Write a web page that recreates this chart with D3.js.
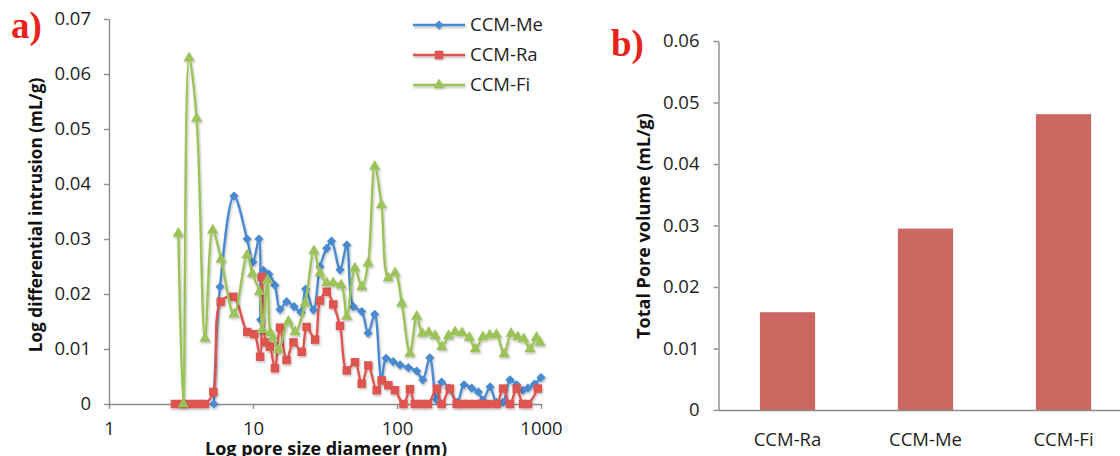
<!DOCTYPE html>
<html>
<head>
<meta charset="utf-8">
<script src="https://cdn.jsdelivr.net/npm/d3@7"></script>
<style>
  body { margin: 0; background: #fff; }
  svg { display: block; font-family: 'Open Sans', sans-serif; }
  .axis path, .axis line { stroke: #8c8c8c; stroke-width: 1.4; }
  .axis text { font-family: 'Open Sans', sans-serif; font-size: 18.5px; fill: #1e1e1e; }
  .title { font-weight: bold; font-size: 18px; fill: #111; }
  .panel { font-family: 'Liberation Serif', serif; font-weight: bold; font-size: 37px; fill: #e8231c; }
  .legend text { font-size: 18.5px; fill: #1e1e1e; }
</style>
</head>
<body>
<div class="chart"></div>
<script>
// panel a) - log differential intrusion vs pore diameter (nm)
const seriesNames = ['CCM-Me', 'CCM-Ra', 'CCM-Fi'];

const meDiam = [5.35, 5.9, 7.38, 9.1, 10.0, 11.0, 11.3, 11.8, 12.9, 14.2, 15.4, 17.1, 19.3, 21.5, 23.2,
  26.3, 29.2, 32.5, 35.1, 40.2, 44.8, 49.8, 56.9, 63, 70, 78, 84, 94, 105, 120, 137, 151, 169, 188,
  204, 229, 262, 292, 330, 367, 395, 443, 490, 545, 609, 678, 750, 812, 900, 1000];
const meVol = [0, 0.0213, 0.0378, 0.0300, 0.0258, 0.0300, 0.0153, 0.0243, 0.0236, 0.0216, 0.0172,
  0.0186, 0.0177, 0.0167, 0.0209, 0.0171, 0.0250, 0.0283, 0.0296, 0.0244, 0.0289, 0.0177, 0.0168,
  0.0129, 0.0163, 0.0044, 0.0083, 0.0077, 0.0071, 0.0066, 0.0060, 0.0044, 0.0084, 0.0008, 0.0040,
  0.0029, 0.0003, 0.0035, 0.0029, 0.0022, 0.0007, 0.0031, 0.0003, 0.0003, 0.0044, 0.0035, 0.0025,
  0.0029, 0.0036, 0.0048];

const raDiam = [2.87, 3.28, 3.75, 4.24, 4.64, 5.30, 5.97, 7.30, 9.13, 10.2, 11.2, 11.5, 12.3, 13.1,
  14.2, 15.4, 17.1, 19.1, 21.8, 23.6, 27.0, 29.2, 32.5, 36.1, 40.2, 44.8, 51.1, 56.9, 63.2, 72.3,
  78.3, 87.1, 96.9, 111, 123, 133, 148, 164, 189, 204, 233, 260, 287, 311, 348, 387, 429, 492, 545,
  609, 678, 750, 812, 950];
const raVol = [0, 0, 0, 0, 0, 0.0022, 0.0186, 0.0195, 0.0131, 0.0127, 0.0086, 0.0231, 0.0112, 0.0104,
  0.0065, 0.0139, 0.0080, 0.0112, 0.0095, 0.0140, 0.0117, 0.0188, 0.0204, 0.0181, 0.0142, 0.0061,
  0.0076, 0.0037, 0.0070, 0.0025, 0.0043, 0.0034, 0.0025, 0, 0.0027, 0, 0, 0, 0.0028, 0, 0.0028,
  0, 0, 0, 0, 0, 0, 0, 0.0028, 0, 0.0028, 0, 0, 0.0028];

const fiDiam = [3.03, 3.28, 3.6, 4.06, 4.64, 5.25, 6.0, 7.38, 9.1, 9.9, 11.1, 11.6, 12.6, 13.2, 13.8,
  15.0, 17.6, 19.6, 23.0, 26.5, 29.2, 32.5, 36.0, 41.0, 44.8, 51.0, 57.0, 63.0, 70.0, 78.0, 87.0,
  97.0, 108, 123, 137, 150, 166, 184, 205, 228, 253, 283, 318, 350, 395, 440, 490, 555, 620, 690,
  760, 840, 930, 985];
const fiVol = [0.0310, 0, 0.0629, 0.0519, 0.0119, 0.0316, 0.0263, 0.0163, 0.0271, 0.0237, 0.0204,
  0.0135, 0.0225, 0.0129, 0.0120, 0.0098, 0.0150, 0.0131, 0.0183, 0.0278, 0.0238, 0.0220, 0.0220,
  0.0216, 0.0159, 0.0247, 0.0213, 0.0256, 0.0432, 0.0362, 0.0229, 0.0238, 0.0183, 0.0092, 0.0159,
  0.0128, 0.0130, 0.0124, 0.0104, 0.0124, 0.0131, 0.0129, 0.0121, 0.0100, 0.0122, 0.0125, 0.0126,
  0.0091, 0.0128, 0.0122, 0.0118, 0.0100, 0.0121, 0.0112];

const poreTicks = [1, 10, 100, 1000];
const intrusionTicks = [0, 0.01, 0.02, 0.03, 0.04, 0.05, 0.06, 0.07];

// panel b) - total pore volume
const sampleNames = ['CCM-Ra', 'CCM-Me', 'CCM-Fi'];
const totalVolume = [0.0159, 0.0295, 0.0481];
const volumeTicks = [0, 0.01, 0.02, 0.03, 0.04, 0.05, 0.06];

const colors = ['#4a89cf', '#de5450', '#9cc35a'];

const svg = d3.select('.chart')
  .append('svg')
  .attr('width', 1120)
  .attr('height', 456);

const shadow = svg.append('defs').append('filter')
  .attr('id', 'shadow')
  .attr('x', '-10%').attr('y', '-10%')
  .attr('width', '120%').attr('height', '120%');
shadow.append('feDropShadow')
  .attr('dx', 0.8).attr('dy', 1.5)
  .attr('stdDeviation', 1.3)
  .attr('flood-color', '#000')
  .attr('flood-opacity', 0.28);

// ---------- a) ----------
const x = d3.scaleLog().domain([1, 1000]).range([109, 541]);
const y = d3.scaleLinear().domain([0, 0.07]).range([404, 19]);

svg.append('g')
  .attr('class', 'axis')
  .attr('transform', 'translate(0,404)')
  .call(d3.axisBottom(x).tickValues(poreTicks).tickFormat(d3.format('d'))
    .tickSize(5).tickSizeOuter(0).tickPadding(13));

svg.append('g')
  .attr('class', 'axis')
  .attr('transform', 'translate(109,0)')
  .call(d3.axisLeft(y).tickValues(intrusionTicks).tickFormat(d => String(d))
    .tickSize(5).tickSizeOuter(0).tickPadding(13));

const series = [
  { name: seriesNames[0], diam: meDiam, vol: meVol, symbol: 'diamond' },
  { name: seriesNames[1], diam: raDiam, vol: raVol, symbol: 'square' },
  { name: seriesNames[2], diam: fiDiam, vol: fiVol, symbol: 'triangle' }
];

const symbolPath = {
  diamond: d3.symbol().type(d3.symbolSquare).size(42)(),
  square: d3.symbol().type(d3.symbolSquare).size(72)(),
  triangle: d3.symbol().type(d3.symbolTriangle).size(55)()
};
const symbolRotate = { diamond: 45, square: 0, triangle: 0 };

const line = d3.line()
  .x(p => x(p.d))
  .y(p => y(p.v))
  .curve(d3.curveCatmullRom.alpha(0.5));

series.forEach((s, i) => {
  const pts = s.diam.map((d, j) => ({ d: d, v: s.vol[j] }));
  const g = svg.append('g').attr('filter', 'url(#shadow)');
  g.append('path')
    .datum(pts)
    .attr('d', line)
    .attr('fill', 'none')
    .attr('stroke', colors[i])
    .attr('stroke-width', 2.4);
  g.selectAll('path.mark')
    .data(pts)
    .join('path')
    .attr('class', 'mark')
    .attr('d', symbolPath[s.symbol])
    .attr('transform', p => `translate(${x(p.d)},${y(p.v)}) rotate(${symbolRotate[s.symbol]})`)
    .attr('fill', colors[i]);
});

const legend = svg.append('g').attr('class', 'legend');
series.forEach((s, i) => {
  const ly = 25 + i * 30;
  const row = legend.append('g').attr('filter', 'url(#shadow)');
  row.append('line')
    .attr('x1', 413).attr('x2', 465)
    .attr('y1', ly).attr('y2', ly)
    .attr('stroke', colors[i])
    .attr('stroke-width', 2.4);
  row.append('path')
    .attr('d', symbolPath[s.symbol])
    .attr('transform', `translate(439,${ly}) rotate(${symbolRotate[s.symbol]})`)
    .attr('fill', colors[i]);
  legend.append('text')
    .attr('x', 470)
    .attr('y', ly)
    .attr('dy', '0.35em')
    .text(s.name);
});

svg.append('text')
  .attr('class', 'title')
  .attr('transform', 'translate(42,215) rotate(-90)')
  .attr('text-anchor', 'middle')
  .style('font-size', '17.2px')
  .text('Log differential intrusion (mL/g)');

svg.append('text')
  .attr('class', 'title')
  .attr('x', 326)
  .attr('y', 455)
  .attr('text-anchor', 'middle')
  .text('Log pore size diameer (nm)');

svg.append('text')
  .attr('class', 'panel')
  .attr('x', 11)
  .attr('y', 38)
  .text('a)');

// ---------- b) ----------
const xb = d3.scaleBand()
  .domain(sampleNames)
  .range([718.5, 1132.5])
  .paddingInner(0.6)
  .paddingOuter(0.3);
const yb = d3.scaleLinear().domain([0, 0.06]).range([410, 41]);

svg.selectAll('rect.bar')
  .data(totalVolume)
  .join('rect')
  .attr('class', 'bar')
  .attr('x', (d, i) => xb(sampleNames[i]))
  .attr('y', d => yb(d))
  .attr('width', xb.bandwidth())
  .attr('height', d => yb(0) - yb(d))
  .attr('fill', '#cc6661');

svg.append('g')
  .attr('class', 'axis')
  .attr('transform', 'translate(0,410)')
  .call(d3.axisBottom(xb).tickSize(0).tickPadding(23));

svg.append('g')
  .attr('class', 'axis')
  .attr('transform', 'translate(718.5,0)')
  .call(d3.axisLeft(yb).tickValues(volumeTicks).tickFormat(d => String(d))
    .tickSize(5).tickSizeOuter(0).tickPadding(14));

svg.append('text')
  .attr('class', 'title')
  .attr('transform', 'translate(650,226) rotate(-90)')
  .attr('text-anchor', 'middle')
  .text('Total Pore volume (mL/g)');

svg.append('text')
  .attr('class', 'panel')
  .attr('x', 611)
  .attr('y', 56)
  .text('b)');
</script>
</body>
</html>
